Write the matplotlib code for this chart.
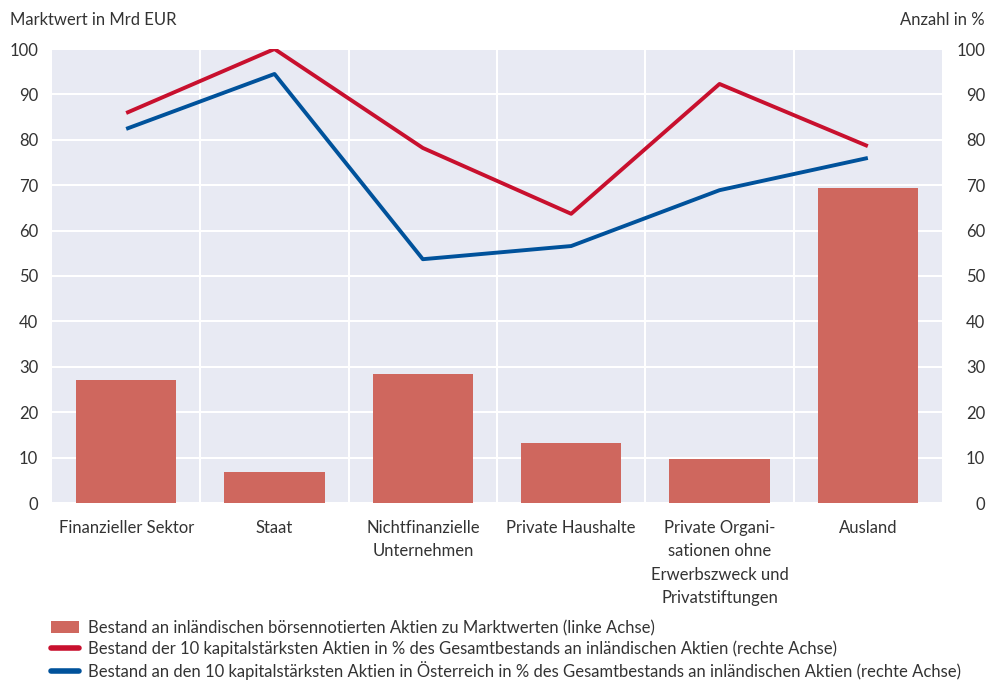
import matplotlib.pyplot as plt
import numpy as np
from matplotlib.lines import Line2D
from matplotlib.patches import Patch

plt.rcParams.update({"font.family": ["Lato", "DejaVu Sans"], "font.size": 12})

CATEGORIES = [
    "Finanzieller Sektor",
    "Staat",
    "Nichtfinanzielle\nUnternehmen",
    "Private Haushalte",
    "Private Organi-\nsationen ohne\nErwerbszweck und\nPrivatstiftungen",
    "Ausland",
]
BESTAND = [27.1, 6.8, 28.4, 13.2, 9.7, 69.4]
TOP10_INLAND = [85.9, 100.0, 78.2, 63.7, 92.3, 78.6]
TOP10_OESTERREICH = [82.4, 94.5, 53.7, 56.6, 68.9, 76.0]

BAR_COLOR = "#cf675e"
RED = "#c8102e"
BLUE = "#00529b"
BG = "#e8eaf3"
TEXT = "#333333"

fig = plt.figure(figsize=(9.88, 6.81), dpi=100)
ax = fig.add_axes([52 / 988, 1 - 503 / 681, 890 / 988, 454 / 681])
ax.set_facecolor(BG)

x = np.arange(len(CATEGORIES))
ax.bar(x, BESTAND, width=0.675, color=BAR_COLOR, zorder=2)

ax2 = ax.twinx()
ax2.plot(x, TOP10_INLAND, color=RED, linewidth=2.8, solid_capstyle="butt", zorder=3)
ax2.plot(x, TOP10_OESTERREICH, color=BLUE, linewidth=2.8, solid_capstyle="butt", zorder=3)

for a in (ax, ax2):
    a.set_ylim(0, 100)
    a.set_yticks(range(0, 101, 10))
    a.set_xlim(-0.5, len(CATEGORIES) - 0.5)
    for s in a.spines.values():
        s.set_visible(False)
    a.tick_params(axis="both", length=0, colors=TEXT, labelsize=12)

ax.set_axisbelow(True)
ax.yaxis.grid(True, color="white", linewidth=1.5, zorder=0)
for b in np.arange(0.5, len(CATEGORIES) - 0.5, 1):
    ax.axvline(b, color="white", linewidth=1.5, zorder=1)

ax.set_xticks(x)
ax.set_xticklabels(CATEGORIES, fontsize=12, linespacing=1.58)
ax.tick_params(axis="x", pad=12)
ax.tick_params(axis="y", pad=10)
for lbl in ax2.get_yticklabels():
    lbl.set_horizontalalignment("right")
ax2.yaxis.set_tick_params(pad=31)

fig.text(10 / 988, 1 - 20 / 681, "Marktwert in Mrd EUR", ha="left", va="center",
         fontsize=12, color=TEXT)
fig.text(985 / 988, 1 - 20 / 681, "Anzahl in %", ha="right", va="center",
         fontsize=12, color=TEXT)

handles = [
    Patch(facecolor=BAR_COLOR, edgecolor="none"),
    Line2D([0], [0], color=RED, linewidth=4, solid_capstyle="round"),
    Line2D([0], [0], color=BLUE, linewidth=4, solid_capstyle="round"),
]
labels = [
    "Bestand an inländischen börsennotierten Aktien zu Marktwerten (linke Achse)",
    "Bestand der 10 kapitalstärksten Aktien in % des Gesamtbestands an inländischen Aktien (rechte Achse)",
    "Bestand an den 10 kapitalstärksten Aktien in Österreich in % des Gesamtbestands an inländischen Aktien (rechte Achse)",
]
fig.legend(handles, labels, loc="upper left", bbox_to_anchor=(51 / 988, 1 - 620 / 681),
           frameon=False, fontsize=12, handlelength=1.65, handleheight=0.7,
           handletextpad=0.6, labelspacing=0.25, borderaxespad=0, borderpad=0,
           labelcolor=TEXT)

fig.savefig("out.png", dpi=100)
